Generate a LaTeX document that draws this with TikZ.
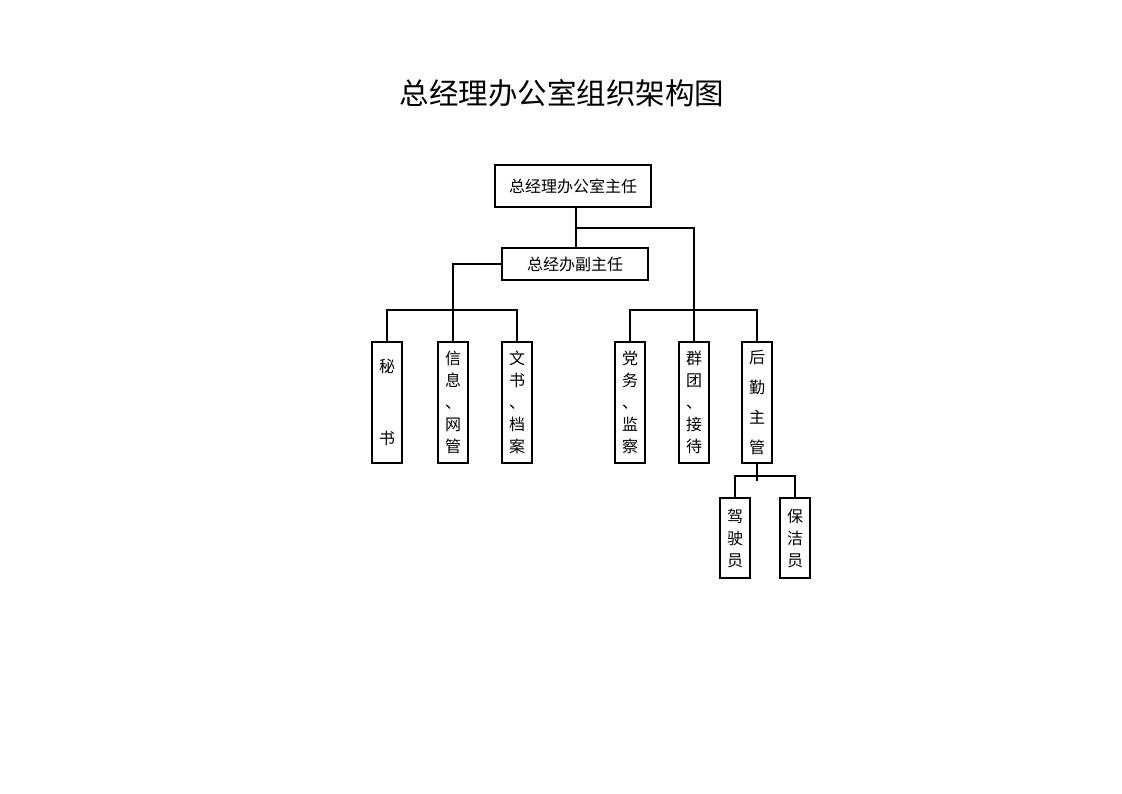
\documentclass[tikz,border=0pt]{standalone}
\usepackage{fontspec}
\setmainfont{Noto Sans CJK SC}
\begin{document}
\begin{tikzpicture}[x=1pt,y=-1pt]
  \tikzset{
    box/.style={draw,line width=1.6pt,inner sep=0pt,font=\fontsize{16}{22}\selectfont},
    vbox/.style={box,minimum width=30,minimum height=121,align=center},
    sbox/.style={box,minimum width=30,minimum height=80,align=center},
    link/.style={line width=1.6pt}}
  \useasboundingbox (0,0) rectangle (1122,793);
  \node[font=\fontsize{29.5}{32}\selectfont] (title) at (562,93) {总经理办公室组织架构图};
  \node[box,minimum width=156,minimum height=42] (chief) at (573,186) {总经理办公室主任};
  \node[box,minimum width=146,minimum height=32] (deputy) at (575,264) {总经办副主任};
  % left group
  \node[vbox] (mi) at (387,402.5) {秘\\[50pt]书};
  \node[vbox] (xin) at (453,402.5) {信\\息\\、\\网\\管};
  \node[vbox] (wen) at (517,402.5) {文\\书\\、\\档\\案};
  % right group
  \node[vbox] (dang) at (630,402.5) {党\\务\\、\\监\\察};
  \node[vbox] (qun) at (694,402.5) {群\\团\\、\\接\\待};
  \node[vbox] (hou) at (757,402.5) {后\\[8pt]勤\\[8pt]主\\[8pt]管};
  \node[sbox] (jia) at (735,538) {驾\\驶\\员};
  \node[sbox] (bao) at (795,538) {保\\洁\\员};
  % connectors
  \coordinate (j1) at (576,228);
  \draw[link] (j1 |- chief.south) -- (j1 |- deputy.north);
  \draw[link] (j1) -| (qun.north);
  \draw[link] (deputy.west) -| (xin.north);
  \draw[link] (mi.north) -- ++(0,-31) -| (wen.north);
  \draw[link] (dang.north) -- ++(0,-31) -| (hou.north);
  \draw[link] (hou.south) -- ++(0,17);
  \draw[link] (jia.north) -- ++(0,-21) -| (bao.north);
\end{tikzpicture}
\end{document}
